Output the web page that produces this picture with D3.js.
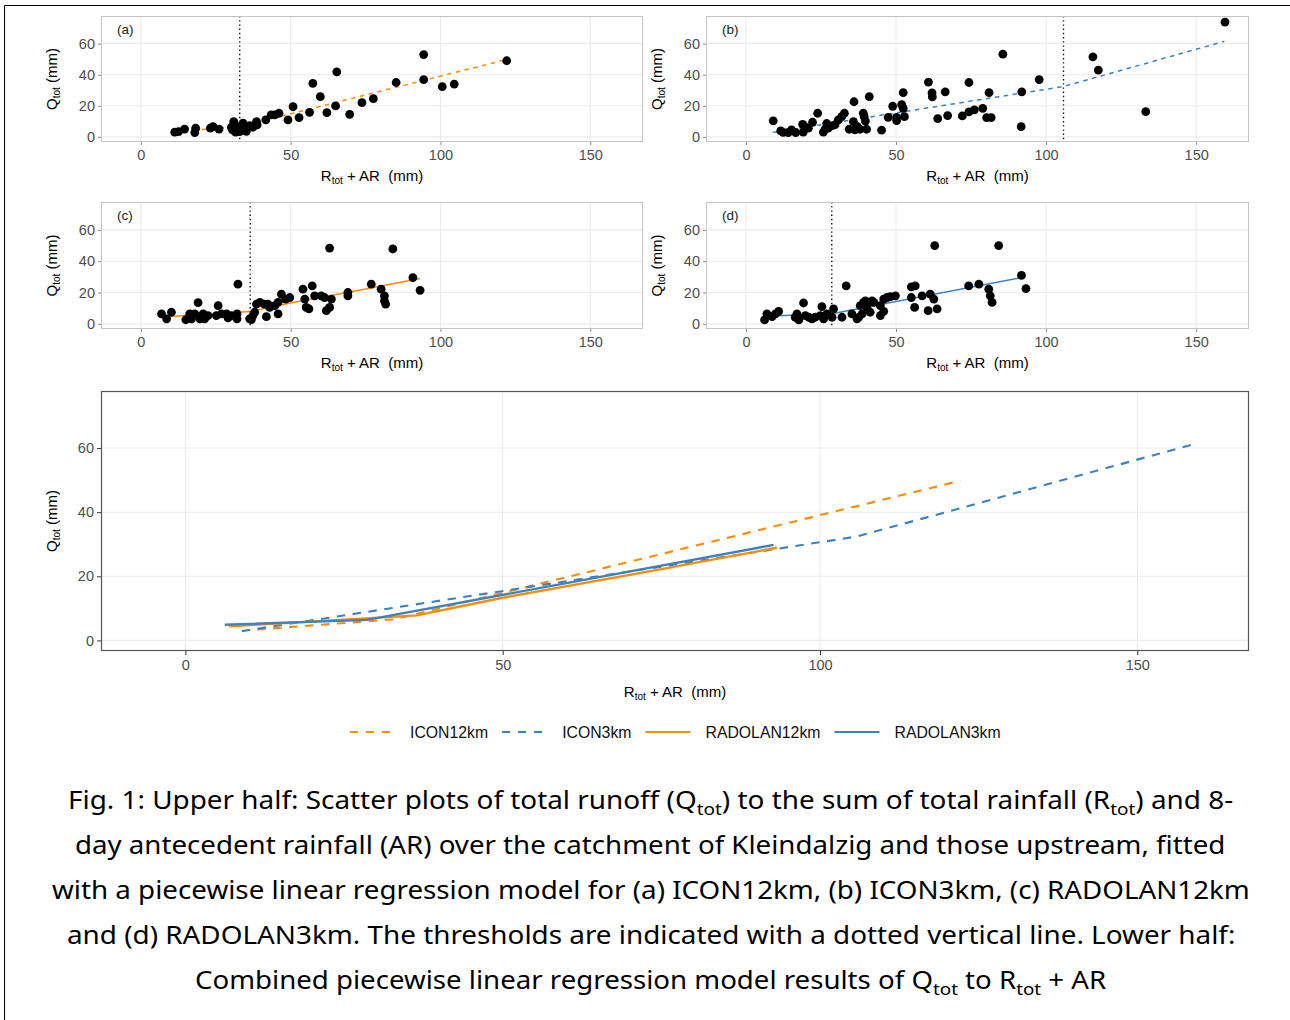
<!DOCTYPE html>
<html><head><meta charset="utf-8">
<script src="https://cdn.jsdelivr.net/npm/d3@7"></script>
<style>body{margin:0;background:#fff} svg{display:block} text{white-space:pre}</style>
</head><body>
<svg id="c" width="1290" height="1020"></svg>
<script>
// ---------------- DATA ----------------
const xTicks = [0, 50, 100, 150];
const yTicks = [0, 20, 40, 60];
const xLimits = [-13.3, 167.6];
const yLimits = [-3.3, 77.8];
const seriesNames = ["ICON12km", "ICON3km", "RADOLAN12km", "RADOLAN3km"];
const panelLabels = ["(a)", "(b)", "(c)", "(d)"];
const thresholds = [33.0, 105.8, 36.5, 28.6];

const pointsA = [[11.3,3.0],[12.6,3.4],[14.6,5.0],[18.0,2.8],[18.3,5.6],[23.2,5.6],[24.1,6.6],[26.1,5.0],
 [30.6,4.5],[31.0,9.8],[30.2,6.2],[31.9,5.6],[31.6,3.0],[32.3,6.5],[33.0,3.4],[32.6,4.2],[33.6,7.1],
 [34.1,8.8],[34.7,4.5],[35.2,3.6],[36.3,7.3],[37.4,6.2],[38.6,9.8],[38.8,7.7],[41.7,10.9],[43.5,14.1],
 [44.7,14.1],[46.1,15.2],[49.1,10.9],[50.8,19.4],[52.8,12.4],[56.3,15.8],[57.4,34.4],[59.9,25.9],
 [62.1,15.6],[65.0,19.9],[65.4,41.9],[69.7,14.5],[73.8,22.0],[77.6,24.6],[85.2,35.0],[94.4,53.0],
 [94.4,36.8],[100.6,32.3],[104.6,34.0],[122.1,49.0]];

const pointsB = [[9.1,10.3],[11.6,3.8],[12.4,2.9],[14.1,2.8],[15.2,4.5],[16.6,2.8],[18.9,8.1],[19.1,3.0],
 [19.6,6.6],[20.8,5.6],[22.2,9.4],[23.9,15.2],[25.8,3.0],[26.4,4.9],[26.9,8.6],[27.4,5.6],[28.6,7.1],
 [29.7,7.8],[30.8,11.0],[31.9,13.0],[32.8,15.2],[34.4,4.9],[35.8,9.8],[36.0,22.6],[36.3,4.5],[37.0,6.8],
 [38.0,4.9],[39.1,15.2],[39.4,13.0],[39.8,10.2],[40.2,4.9],[41.1,25.9],[45.2,4.3],[47.4,12.6],[48.9,19.7],
 [50.2,10.5],[50.2,12.6],[51.9,20.7],[52.4,18.4],[52.8,13.0],[52.4,28.5],[60.8,35.3],[62.0,28.3],
 [62.1,25.7],[63.9,11.8],[66.4,29.0],[67.2,13.7],[72.1,13.5],[74.3,16.1],[76.1,17.4],[78.9,18.4],
 [74.3,35.0],[80.2,12.4],[81.7,12.4],[81.0,28.5],[85.6,53.2],[91.7,6.6],[91.9,29.0],[97.7,36.9],
 [115.6,51.5],[117.4,43.0],[133.2,16.2],[159.6,73.9]];

const pointsC = [[6.9,6.3],[8.6,3.2],[10.2,7.4],[15.0,2.6],[16.3,6.3],[16.9,3.2],[18.0,6.3],[19.1,13.6],
 [19.7,3.2],[20.8,6.3],[21.3,3.2],[22.4,5.3],[25.8,11.6],[25.2,5.3],[26.9,6.3],[28.6,6.3],[29.1,3.8],
 [30.2,5.3],[32.1,6.3],[32.1,3.2],[32.4,25.3],[36.3,3.2],[37.4,5.3],[36.9,2.7],[38.0,7.4],[38.6,12.6],
 [39.7,13.7],[41.3,12.6],[42.4,12.6],[43.0,10.5],[41.9,4.6],[44.7,11.6],[45.8,13.7],[45.8,6.3],[46.9,18.9],
 [48.3,15.8],[49.7,16.8],[54.1,22.1],[54.7,15.8],[55.2,10.5],[56.1,9.5],[57.2,24.2],[58.0,17.9],
 [60.2,17.9],[61.3,16.8],[61.9,8.4],[63.0,10.5],[63.6,15.8],[63.0,48.4],[69.1,20.0],[69.1,17.9],
 [76.9,25.3],[80.2,22.1],[81.3,17.9],[81.3,14.7],[81.7,12.6],[84.1,47.8],[90.8,29.5],[93.2,21.4]];

const pointsD = [[6.2,2.5],[7.0,6.3],[8.7,4.6],[9.8,6.3],[10.9,8.0],[16.4,4.2],[17.0,6.3],[17.6,2.5],
 [19.2,13.3],[19.8,5.3],[20.9,4.2],[22.0,3.2],[23.1,4.2],[24.8,5.3],[25.3,11.0],[25.9,3.2],[27.0,6.3],
 [28.7,4.2],[29.2,9.5],[32.0,4.2],[33.4,24.2],[35.3,6.3],[37.0,3.2],[37.6,4.2],[38.1,11.6],[38.7,6.3],
 [39.2,13.7],[39.8,14.7],[40.3,10.5],[41.4,7.4],[42.0,14.7],[42.6,13.7],[44.8,5.3],[44.8,11.6],[45.9,15.8],
 [45.9,8.0],[47.0,16.8],[48.1,17.3],[49.8,17.9],[55.1,23.6],[56.4,24.2],[55.1,16.8],[56.2,10.5],
 [58.7,17.9],[60.7,8.4],[61.4,18.9],[62.6,15.8],[63.7,9.5],[62.9,50.0],[74.2,24.2],[77.6,25.3],
 [80.9,22.1],[81.4,17.9],[82.0,13.7],[84.2,50.0],[91.8,30.9],[93.3,22.5]];

// fitted piecewise-linear models [x, Qtot]
const fitA = [[11.3,3.4],[33.0,6.6],[122.1,49.8]];
const fitB = [[8.9,2.9],[105.8,32.4],[159.4,61.5]];
const fitC = [[6.9,4.4],[36.5,7.8],[50.0,13.3],[73.3,21.6],[93.2,28.9]];
const fitD = [[6.2,4.9],[28.6,6.4],[92.7,29.8]];

const captionLines = [
 [["Fig. 1: Upper half: Scatter plots of total runoff (Q",0],["tot",1],[") to the sum of total rainfall (R",0],["tot",1],[") and 8-",0]],
 [["day antecedent rainfall (AR) over the catchment of Kleindalzig and those upstream, fitted",0]],
 [["with a piecewise linear regression model for (a) ICON12km, (b) ICON3km, (c) RADOLAN12km",0]],
 [["and (d) RADOLAN3km. The thresholds are indicated with a dotted vertical line. Lower half:",0]],
 [["Combined piecewise linear regression model results of Q",0],["tot",1],[" to R",0],["tot",1],[" + AR",0]]
];

// ---------------- STYLE / LAYOUT ----------------
const ORANGE = "#ff8c00", BLUE = "#3a82c4";
const FONT = "'Liberation Sans', Arial, sans-serif";
const series = [
  {name: seriesNames[0], fit: fitA, color: ORANGE, dashed: true},
  {name: seriesNames[1], fit: fitB, color: BLUE, dashed: true},
  {name: seriesNames[2], fit: fitC, color: ORANGE, dashed: false},
  {name: seriesNames[3], fit: fitD, color: BLUE, dashed: false}
];
const panels = [
  {label: panelLabels[0], pts: pointsA, s: series[0], thr: thresholds[0], rect: {l:101, r:643, t:16, b:142}},
  {label: panelLabels[1], pts: pointsB, s: series[1], thr: thresholds[1], rect: {l:706, r:1249, t:16, b:142}},
  {label: panelLabels[2], pts: pointsC, s: series[2], thr: thresholds[2], rect: {l:101, r:643, t:202, b:329}},
  {label: panelLabels[3], pts: pointsD, s: series[3], thr: thresholds[3], rect: {l:706, r:1249, t:202, b:329}}
];

const svg = d3.select("#c");
svg.append("rect").attr("width",1290).attr("height",1020).attr("fill","#fff");
// outer frame
svg.append("path").attr("d","M4.5,1020 L4.5,5.5 L1290,5.5").attr("fill","none").attr("stroke","#000").attr("stroke-width",1);

function frame(g, rect, opts) {
  const x = d3.scaleLinear().domain(xLimits).range([rect.l, rect.r]);
  const y = d3.scaleLinear().domain(yLimits).range([rect.b, rect.t]);
  // grid
  g.append("g").selectAll("line").data(xTicks).join("line")
    .attr("x1", d=>x(d)).attr("x2", d=>x(d)).attr("y1", rect.t).attr("y2", rect.b)
    .attr("stroke", "#ebebeb").attr("stroke-width", 1.1);
  g.append("g").selectAll("line").data(yTicks).join("line")
    .attr("y1", d=>y(d)).attr("y2", d=>y(d)).attr("x1", rect.l).attr("x2", rect.r)
    .attr("stroke", "#ebebeb").attr("stroke-width", 1.1);
  // axes
  const ax = g.append("g").attr("transform", `translate(0,${rect.b})`)
    .call(d3.axisBottom(x).tickValues(xTicks).tickSize(opts.tick).tickPadding(5).tickFormat(d3.format("d")));
  const ay = g.append("g").attr("transform", `translate(${rect.l},0)`)
    .call(d3.axisLeft(y).tickValues(yTicks).tickSize(opts.tick).tickPadding(3).tickFormat(d3.format("d")));
  [ax, ay].forEach(a => {
    a.select(".domain").remove();
    a.selectAll("line").attr("stroke", opts.tickColor);
    a.selectAll("text").attr("fill", "#4d4d4d").style("font-family", FONT).style("font-size", "14.5px");
  });
  // x title
  const cx = (rect.l + rect.r) / 2;
  const xt = g.append("text").attr("x", cx).attr("y", rect.b + opts.xTitleOff)
    .attr("text-anchor", "middle").style("font-family", FONT).style("font-size", "15px").attr("fill", "#000");
  xt.append("tspan").text("R");
  xt.append("tspan").text("tot").style("font-size", "10px").attr("dy", 3);
  xt.append("tspan").text(" + AR  (mm)").attr("dy", -3);
  // y title
  const cy = (rect.t + rect.b) / 2;
  const yt = g.append("text").attr("transform", `translate(${rect.l - 44},${cy}) rotate(-90)`)
    .attr("text-anchor", "middle").style("font-family", FONT).style("font-size", "15px").attr("fill", "#000");
  yt.append("tspan").text("Q");
  yt.append("tspan").text("tot").style("font-size", "10px").attr("dy", 3);
  yt.append("tspan").text(" (mm)").attr("dy", -3);
  return {x, y};
}

const line = (x, y) => d3.line().x(d => x(d[0])).y(d => y(d[1]));

panels.forEach(p => {
  const g = svg.append("g");
  const {x, y} = frame(g, p.rect, {tick: 3, tickColor: "#8a8a8a", xTitleOff: 39});
  g.append("path").datum(p.s.fit).attr("d", line(x, y)).attr("fill", "none")
    .attr("stroke", p.s.color).attr("stroke-width", 1.5)
    .attr("stroke-dasharray", p.s.dashed ? "4.5,4.5" : null);
  g.append("g").selectAll("circle").data(p.pts).join("circle")
    .attr("cx", d => x(d[0])).attr("cy", d => y(d[1])).attr("r", 4.4).attr("fill", "#000");
  g.append("line").attr("x1", x(p.thr)).attr("x2", x(p.thr)).attr("y1", p.rect.t).attr("y2", p.rect.b)
    .attr("stroke", "#111").attr("stroke-width", 1.4).attr("stroke-dasharray", "1.4,2.8");
  g.append("rect").attr("x", p.rect.l + 0.5).attr("y", p.rect.t + 0.5)
    .attr("width", p.rect.r - p.rect.l - 1).attr("height", p.rect.b - p.rect.t - 1)
    .attr("fill", "none").attr("stroke", "#c4c4c4").attr("stroke-width", 1);
  g.append("text").attr("x", p.rect.l + 16).attr("y", p.rect.t + 18).text(p.label)
    .style("font-family", FONT).style("font-size", "13.5px").attr("fill", "#222");
});

// combined panel
{
  const rect = {l:101, r:1249, t:391, b:651};
  const g = svg.append("g");
  const {x, y} = frame(g, rect, {tick: 4, tickColor: "#333", xTitleOff: 46});
  series.forEach(s => {
    g.append("path").datum(s.fit).attr("d", line(x, y)).attr("fill", "none")
      .attr("stroke", s.color).attr("stroke-width", s.dashed ? 2.1 : 2.4)
      .attr("stroke-dasharray", s.dashed ? "8.5,7.5" : null);
  });
  g.append("rect").attr("x", rect.l + 0.5).attr("y", rect.t + 0.5)
    .attr("width", rect.r - rect.l - 1).attr("height", rect.b - rect.t - 1)
    .attr("fill", "none").attr("stroke", "#555").attr("stroke-width", 1.2);
}

// legend
{
  const lg = svg.append("g").attr("transform", "translate(0,732)");
  let cx = 350;
  series.forEach(s => {
    lg.append("line").attr("x1", cx).attr("x2", cx + (s.dashed ? 41 : 45)).attr("y1", 0).attr("y2", 0)
      .attr("stroke", s.color).attr("stroke-width", 2)
      .attr("stroke-dasharray", s.dashed ? "8,8" : null);
    const t = lg.append("text").attr("x", cx + 60).attr("y", 5.5).text(s.name)
      .style("font-family", FONT).style("font-size", "15.8px").attr("fill", "#111");
    cx = cx + 60 + t.node().getComputedTextLength() + 14;
  });
}

// caption
{
  const targets = [[68,1166],[75,1151],[52,1198],[67,1169],[195,912]];
  const base0 = 809, lh = 45;
  captionLines.forEach((segs, i) => {
    const t = svg.append("text").attr("x", 0).attr("y", 0)
      .style("font-family", "'Noto Sans', 'Open Sans', sans-serif").style("font-size", "25px").attr("fill", "#000");
    let shifted = false;
    segs.forEach(([str, sub]) => {
      const ts = t.append("tspan").text(str);
      if (sub) { ts.style("font-size", "17px").attr("dy", 6); shifted = true; }
      else if (shifted) { ts.attr("dy", -6); shifted = false; }
    });
    const w = t.node().getBBox().width;
    const [left, tw] = targets[i];
    t.attr("transform", `translate(${left},${base0 + i * lh}) scale(${tw / w},1)`);
  });
}
</script>
</body></html>
